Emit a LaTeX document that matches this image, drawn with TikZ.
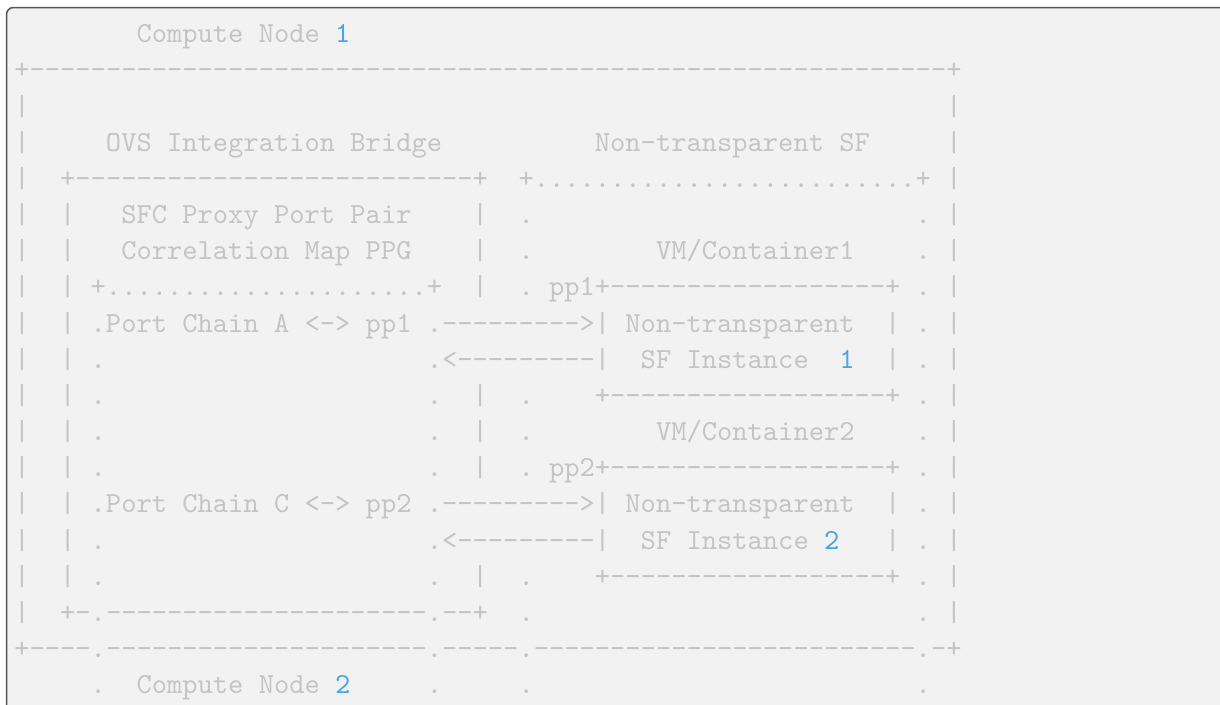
\documentclass[tikz,border=0pt]{standalone}
\usepackage{fontspec}
\setmonofont{lmmono10-regular.otf}
\usetikzlibrary{
	positioning				% relative placement
	, backgrounds
}

\definecolor{codebg}{RGB}{242,242,242}
\definecolor{codefg}{RGB}{196,196,196}
\definecolor{codeframe}{RGB}{85,85,85}
\definecolor{num}{RGB}{66,165,245}

\ExplSyntaxOn
\NewDocumentCommand{\rpt}{mm}{\prg_replicate:nn{#1}{#2}}
\ExplSyntaxOff
\newcommand{\gap}[1]{\rpt{#1}{~}}

\begin{document}
\begin{tikzpicture}[
				x=1pt, y=-1pt,
				ascii/.style={
				inner sep=0pt,
				outer sep=0pt,
				anchor=base west,
				text=codefg,
				font=\fontsize{29.1pt}{36pt}\selectfont\ttfamily
			},
			frame/.style={
				fill=codebg,
				draw=codeframe,
				line width=1.5pt,
				rounded corners=7pt
			}]

			\useasboundingbox (0,0) rectangle (1220,704);
			\clip (0,0) rectangle (1220,704);
			\fill[white] (0,0) rectangle (1220,704);
			\draw[frame] (6.5,7.5) rectangle (1260,740);

			%%% One node per line of the block
			\foreach [count=\i from 0] \rowtext in {
				{\gap{8}Compute~Node~\textcolor{num}{1}},
				{+\rpt{60}{-}+},
				{|\gap{60}|},
				{|\gap{5}OVS~Integration~Bridge\gap{10}Non-transparent~SF\gap{5}|},
				{|\gap{2}+\rpt{26}{-}+\gap{2}+\rpt{25}{.}+\gap{1}|},
				{|\gap{2}|\gap{3}SFC~Proxy~Port~Pair\gap{4}|\gap{2}.\gap{25}.\gap{1}|},
				{|\gap{2}|\gap{3}Correlation~Map~PPG\gap{4}|\gap{2}.\gap{8}VM/Container1\gap{4}.\gap{1}|},
				{|\gap{2}|\gap{1}+\rpt{21}{.}+\gap{2}|\gap{2}.\gap{1}pp1+\rpt{18}{-}+\gap{1}.\gap{1}|},
				{|\gap{2}|\gap{1}.Port~Chain~A~<->~pp1~.\rpt{9}{-}>|\gap{1}Non-transparent\gap{2}|\gap{1}.\gap{1}|},
				{|\gap{2}|\gap{1}.\gap{21}.<\rpt{9}{-}|\gap{2}SF~Instance\gap{2}\textcolor{num}{1}\gap{2}|\gap{1}.\gap{1}|},
				{|\gap{2}|\gap{1}.\gap{21}.\gap{2}|\gap{2}.\gap{4}+\rpt{18}{-}+\gap{1}.\gap{1}|},
				{|\gap{2}|\gap{1}.\gap{21}.\gap{2}|\gap{2}.\gap{8}VM/Container2\gap{4}.\gap{1}|},
				{|\gap{2}|\gap{1}.\gap{21}.\gap{2}|\gap{2}.\gap{1}pp2+\rpt{18}{-}+\gap{1}.\gap{1}|},
				{|\gap{2}|\gap{1}.Port~Chain~C~<->~pp2~.\rpt{9}{-}>|\gap{1}Non-transparent\gap{2}|\gap{1}.\gap{1}|},
				{|\gap{2}|\gap{1}.\gap{21}.<\rpt{9}{-}|\gap{2}SF~Instance~\textcolor{num}{2}\gap{3}|\gap{1}.\gap{1}|},
				{|\gap{2}|\gap{1}.\gap{21}.\gap{2}|\gap{2}.\gap{4}+\rpt{18}{-}+\gap{1}.\gap{1}|},
				{|\gap{2}+-.\rpt{21}{-}.--+\gap{2}.\gap{25}.\gap{1}|},
				{+\rpt{4}{-}.\rpt{21}{-}.\rpt{5}{-}.\rpt{25}{-}.-+},
				{\gap{5}.\gap{2}Compute~Node~\textcolor{num}{2}\gap{5}.\gap{5}.\gap{25}.}
			} {
				\node [ascii] (row\i) at (14.36, {42.7 + 36.17*\i}) {\rowtext};
			};

		\end{tikzpicture}
\end{document}
